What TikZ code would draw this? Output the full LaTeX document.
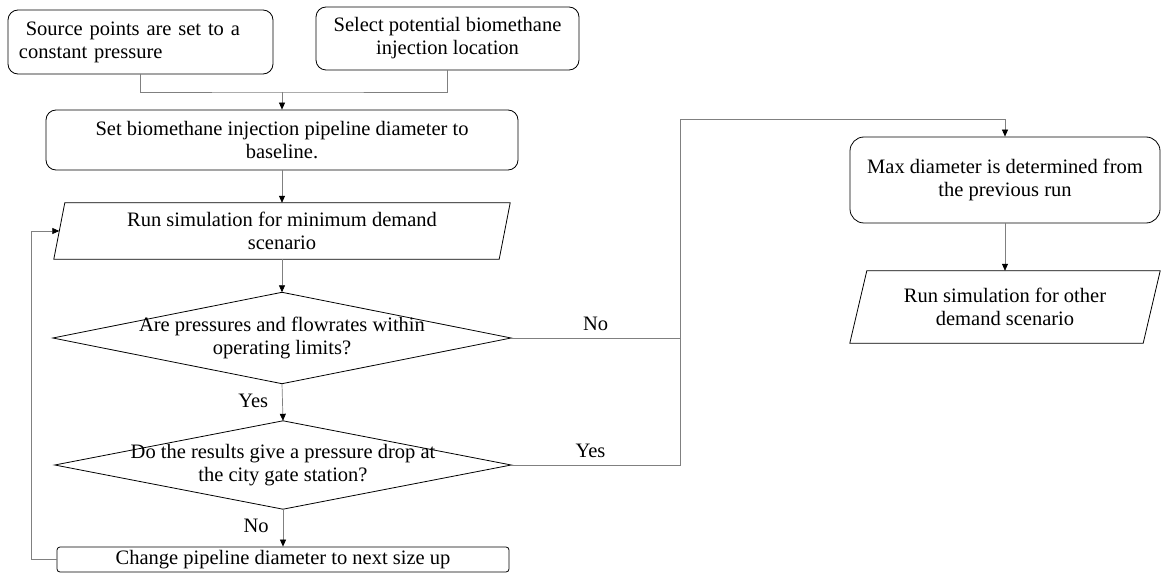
\documentclass[tikz,border=0pt]{standalone}
\usepackage{fontspec}
\setmainfont{Liberation Serif}
\usetikzlibrary{arrows.meta,calc}

\begin{document}
\begin{tikzpicture}[x=1pt,y=-1pt,
  every node/.style={font=\fontsize{20.5}{23}\selectfont, inner sep=0pt},
  frame/.style={rectangle, draw=black, line width=0.8pt, align=center},
  roundbox/.style={frame, rounded corners=10pt},
  shapebox/.style={rectangle, align=center},
  outline/.style={draw=black, line width=0.8pt, line join=miter},
  link/.style={draw=black!50, line width=0.7pt},
  flow/.style={link, -{Triangle[length=7pt,width=6pt,color=black]}},
  tag/.style={font=\fontsize{20.5}{23}\selectfont}
]
\useasboundingbox (0,0) rectangle (1163,575);

% start boxes
\node[roundbox, minimum width=265pt, minimum height=64pt, text width=243pt, align=left] (b1) at (140.5,42) {\ Source points are set to a\\constant pressure\vphantom{g}\\[-6pt]};
\node[roundbox, minimum width=263pt, minimum height=63pt] (b2) at (447.5,38.5) {Select potential biomethane\\injection location};
\node[roundbox, minimum width=472pt, minimum height=60pt] (b3) at (282,140) {Set biomethane injection pipeline diameter to\\baseline.};

% parallelogram: minimum demand run
\node[shapebox, minimum width=456pt, minimum height=56pt] (p1) at (282,231) {Run simulation for minimum demand\\scenario};
\draw[outline] ($(p1.north west)+(11,0)$) -- (p1.north east) -- ($(p1.south east)-(11,0)$) -- (p1.south west) -- cycle;

% decisions
\node[shapebox, minimum width=458pt, minimum height=91pt] (d1) at (282,338) {Are pressures and flowrates within\\operating limits?};
\draw[outline] (d1.north) -- (d1.east) -- (d1.south) -- (d1.west) -- cycle;

\node[shapebox, minimum width=456pt, minimum height=88pt] (d2) at (283,465) {Do the results give a pressure drop at\\the city gate station?};
\draw[outline] (d2.north) -- (d2.east) -- (d2.south) -- (d2.west) -- cycle;

\node[frame, rounded corners=3pt, minimum width=452pt, minimum height=25pt] (b4) at (283,559.5) {Change pipeline diameter to next size up};

% right column
\node[frame, rounded corners=14pt, minimum width=310pt, minimum height=86pt] (m1) at (1005,180) {Max diameter is determined from\\the previous run};
\node[shapebox, minimum width=310pt, minimum height=72pt] (p2) at (1005,307) {Run simulation for other\\demand scenario};
\draw[outline] ($(p2.north west)+(17,0)$) -- (p2.north east) -- ($(p2.south east)-(17,0)$) -- (p2.south west) -- cycle;

% helper points
\coordinate (jn) at (282,92);
\coordinate (lx) at (31,0);
\coordinate (rx) at (680,0);
\coordinate (rt) at (680,119);
\coordinate (pl) at ($(p1.west)+(5.5,0)$);

% connectors
\draw[link] (b1.south) |- (jn) -| (b2.south);
\draw[flow] (jn) -- (b3.north);
\draw[flow] (b3.south) -- (p1.north);
\draw[flow] (p1.south) -- (d1.north);
\draw[flow] (d1.south) -- node[tag, left=14pt, pos=0.45] (ly) {Yes} (d2.north);
\draw[flow] (d2.south) -- node[tag, left=14pt, pos=0.45] (ln) {No} (b4.north);
\draw[flow] (b4.west) -- (b4.west -| lx) |- (pl);
\draw[link] (d1.east) -- node[tag, above=7pt, pos=0.5] (rn) {No} (d1.east -| rx);
\draw[flow] (d2.east) -- node[tag, above=7pt, pos=0.47] (ry) {Yes} (d2.east -| rx) -- (rt) -| (m1.north);
\draw[flow] (m1.south) -- (p2.north);
\end{tikzpicture}
\end{document}
